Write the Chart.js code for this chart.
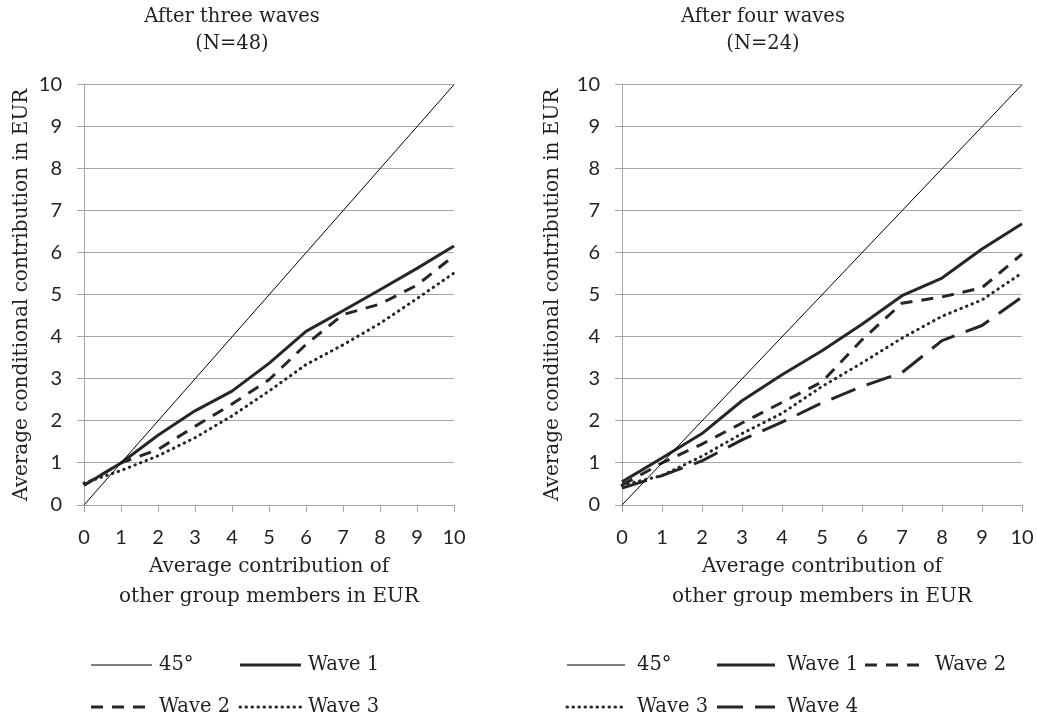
<!DOCTYPE html>
<html>
<head>
<meta charset="utf-8">
<script src="https://cdn.jsdelivr.net/npm/chart.js@4.4.1/dist/chart.umd.min.js"></script>
<style>
  html, body { margin: 0; padding: 0; background: #fff; }
  #wrap { position: relative; width: 1037px; height: 719px; overflow: hidden; }
  canvas { position: absolute; top: 0; }
  #left { left: 0; }
  #right { left: 500px; }
</style>
</head>
<body>
<div id="wrap">
  <canvas id="left" width="494" height="719"></canvas>
  <canvas id="right" width="562" height="719"></canvas>
</div>
<script>
// x = average contribution of other group members (EUR)
const xValues = [0, 1, 2, 3, 4, 5, 6, 7, 8, 9, 10];
const line45 = [0, 1, 2, 3, 4, 5, 6, 7, 8, 9, 10];

// After three waves (N=48)
const threeWave1 = [0.47, 1.00, 1.66, 2.24, 2.71, 3.37, 4.13, 4.62, 5.12, 5.63, 6.16];
const threeWave2 = [0.47, 1.00, 1.32, 1.87, 2.40, 2.98, 3.82, 4.53, 4.78, 5.23, 5.93];
const threeWave3 = [0.52, 0.82, 1.17, 1.60, 2.12, 2.71, 3.34, 3.81, 4.32, 4.91, 5.52];

// After four waves (N=24)
const fourWave1 = [0.55, 1.12, 1.70, 2.48, 3.10, 3.67, 4.30, 4.98, 5.40, 6.09, 6.69];
const fourWave2 = [0.47, 1.00, 1.45, 1.95, 2.44, 2.93, 3.93, 4.80, 4.95, 5.17, 5.97];
const fourWave3 = [0.47, 0.70, 1.16, 1.70, 2.18, 2.82, 3.38, 3.97, 4.49, 4.88, 5.52];
const fourWave4 = [0.40, 0.70, 1.05, 1.55, 1.97, 2.43, 2.82, 3.15, 3.91, 4.27, 4.95];

const TEXT = '#231f20';
const LINE = '#262626';
const GRID = '#a6a6a6';
const SERIF = '"DejaVu Serif", serif';
const SANS = 'Lato, "Open Sans", sans-serif';

// line looks, shared by both panels
const styles = {
  deg45: { borderColor: '#000', borderWidth: 1, borderDash: [] },
  wave1: { borderColor: LINE, borderWidth: 3, borderDash: [] },
  wave2: { borderColor: LINE, borderWidth: 3, borderDash: [12, 9] },
  wave3: { borderColor: LINE, borderWidth: 3, borderDash: [0.5, 5.5], borderCapStyle: 'round' },
  wave4: { borderColor: LINE, borderWidth: 3, borderDash: [26, 12] },
};

function series(label, ys, style) {
  return Object.assign({
    label: label,
    data: xValues.map((x, i) => ({ x: x, y: ys[i] })),
    pointRadius: 0,
    tension: 0,
    fill: false,
    clip: false,
    borderJoinStyle: 'round',
  }, style);
}

// Excel-like legend: fixed columns, rows filled in dataset order
const gridLegend = {
  id: 'gridLegend',
  afterDraw(chart, args, opts) {
    const ctx = chart.ctx;
    ctx.save();
    ctx.font = opts.font;
    ctx.fillStyle = TEXT;
    ctx.textBaseline = 'middle';
    ctx.textAlign = 'left';
    chart.data.datasets.forEach((ds, i) => {
      const col = i % opts.cols.length;
      const row = Math.floor(i / opts.cols.length);
      const x = opts.cols[col], y = opts.rows[row];
      ctx.beginPath();
      ctx.setLineDash(ds.borderDash || []);
      ctx.lineCap = ds.borderCapStyle || 'butt';
      ctx.lineWidth = ds.borderWidth;
      ctx.strokeStyle = ds.borderColor;
      ctx.moveTo(x, y);
      ctx.lineTo(x + opts.lineLen, y);
      ctx.stroke();
      ctx.setLineDash([]);
      ctx.fillText(ds.label, x + opts.textGap, y);
    });
    ctx.restore();
  }
};

function makeOptions(cfg) {
  return {
    responsive: false,
    animation: false,
    layout: { padding: { left: cfg.padL, right: 40, top: 0, bottom: 104 } },
    plugins: {
      legend: { display: false },
      tooltip: { enabled: false },
      title: {
        display: true,
        text: cfg.title,
        color: TEXT,
        font: { family: SERIF, size: 19.5, weight: 'normal', lineHeight: 1.35 },
        padding: { top: 4, bottom: 28 }
      },
      gridLegend: {
        cols: cfg.legendCols,
        rows: [665, 707],
        lineLen: cfg.lineLen,
        textGap: cfg.textGap,
        font: '19.5px ' + SERIF
      }
    },
    scales: {
      x: {
        type: 'linear',
        min: 0,
        max: 10,
        ticks: { stepSize: 1, color: TEXT, font: { family: SANS, size: 20 }, padding: 14, maxRotation: 0 },
        grid: { drawOnChartArea: false, drawTicks: true, tickLength: 7, color: GRID },
        border: { color: GRID, width: 1 },
        title: {
          display: true,
          text: ['Average contribution of', 'other group members in EUR'],
          color: TEXT,
          font: { family: SERIF, size: 20, lineHeight: 1.5 },
          padding: { top: 0, bottom: 3 }
        },
        afterFit: (s) => { s.height = 110; }
      },
      y: {
        min: 0,
        max: 10,
        ticks: { stepSize: 1, color: TEXT, font: { family: SANS, size: 20 }, padding: 15 },
        grid: { color: GRID, tickLength: 7 },
        border: { color: GRID, width: 1 },
        title: {
          display: true,
          text: 'Average conditional contribution in EUR',
          color: TEXT,
          font: { family: SERIF, size: 20, lineHeight: 1.2 },
          padding: { top: cfg.yTitlePad, bottom: 0 }
        },
        afterFit: (s) => { s.width = cfg.yAxisW; }
      }
    }
  };
}

new Chart(document.getElementById('left'), {
  type: 'line',
  data: {
    datasets: [
      series('45°', line45, styles.deg45),
      series('Wave 1', threeWave1, styles.wave1),
      series('Wave 2', threeWave2, styles.wave2),
      series('Wave 3', threeWave3, styles.wave3),
    ]
  },
  options: makeOptions({
    title: ['After three waves', '(N=48)'],
    padL: 10, yAxisW: 74, yTitlePad: 0,
    legendCols: [91, 240], lineLen: 61, textGap: 68
  }),
  plugins: [gridLegend]
});

new Chart(document.getElementById('right'), {
  type: 'line',
  data: {
    datasets: [
      series('45°', line45, styles.deg45),
      series('Wave 1', fourWave1, styles.wave1),
      series('Wave 2', fourWave2, styles.wave2),
      series('Wave 3', fourWave3, styles.wave3),
      series('Wave 4', fourWave4, styles.wave4),
    ]
  },
  options: makeOptions({
    title: ['After four waves', '(N=24)'],
    padL: 4, yAxisW: 118, yTitlePad: 37,
    legendCols: [67, 217, 365], lineLen: 58, textGap: 70
  }),
  plugins: [gridLegend]
});
</script>
</body>
</html>
